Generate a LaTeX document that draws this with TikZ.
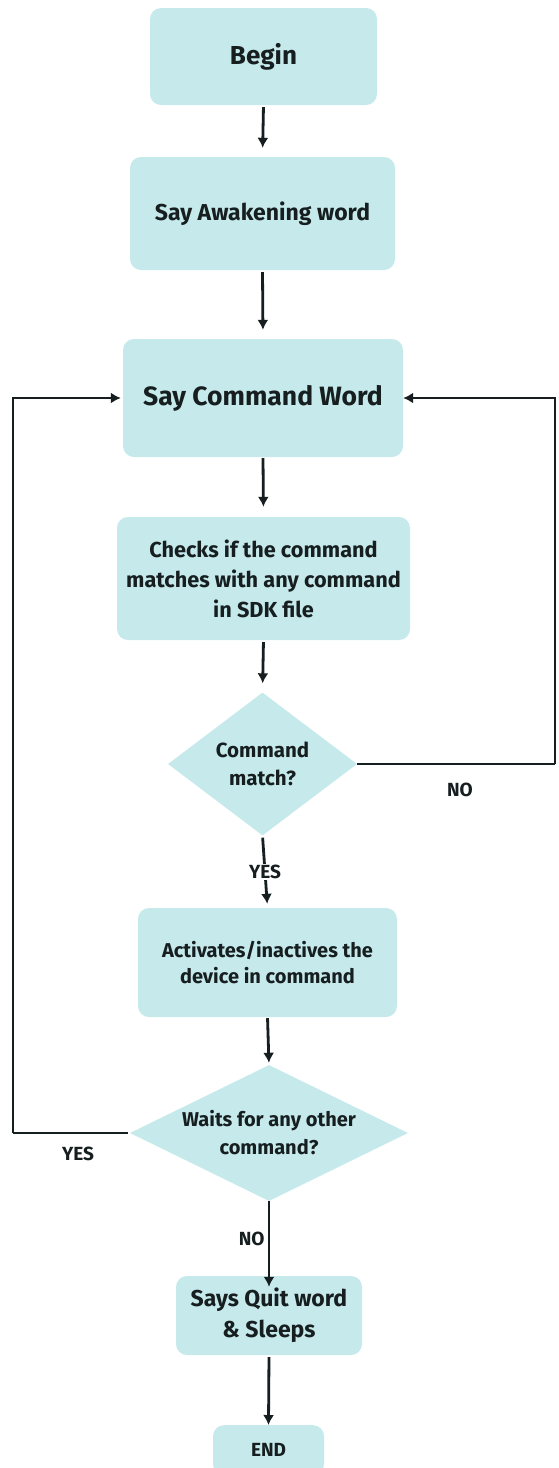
\documentclass[tikz,border=0pt]{standalone}
\usepackage{fontspec}
\setmainfont{Fira Sans}
\usetikzlibrary{shapes.geometric,arrows.meta}
\definecolor{boxfill}{RGB}{198,234,236}
\definecolor{ink}{RGB}{22,30,32}
\tikzset{
  stepbox/.style={rectangle, rounded corners=11pt, fill=boxfill, draw=none, align=center, inner sep=0pt, text=ink, font=\bfseries},
  decide/.style={diamond, fill=boxfill, draw=none, align=center, inner sep=0pt, text=ink, font=\bfseries},
  flow/.style={line width=2.8pt, draw=ink, -{Latex[length=10pt,width=11pt]}},
  plain/.style={line width=2.8pt, draw=ink},
  lbl/.style={text=ink, font=\bfseries\fontsize{19}{21}\selectfont, inner sep=1pt}
}
\begin{document}
\begin{tikzpicture}[x=1pt,y=-1pt]
\useasboundingbox (0,0) rectangle (558,1468);
\fill[white] (0,0) rectangle (558,1468);

\node[stepbox, minimum width=227pt, minimum height=97pt, font=\bfseries\fontsize{26}{30}\selectfont] (begin) at (263.5,56.5) {Begin};
\node[stepbox, minimum width=265pt, minimum height=113pt, font=\bfseries\fontsize{23}{27}\selectfont] (awake) at (262.5,213.5) {Say Awakening word};
\node[stepbox, minimum width=280pt, minimum height=118pt, font=\bfseries\fontsize{26.5}{30}\selectfont] (cmd) at (263,398) {Say Command Word};
\node[stepbox, minimum width=293pt, minimum height=123pt, font=\bfseries\fontsize{21.7}{30}\selectfont] (check) at (263.5,578.5) {Checks if the command\\matches with any command\\in SDK file};
\node[decide, minimum width=189pt, minimum height=143pt, aspect=1.32, font=\bfseries\fontsize{20.5}{28}\selectfont] (match) at (262.5,764) {Command\\match?};
\node[stepbox, minimum width=259pt, minimum height=109pt, font=\bfseries\fontsize{20}{26}\selectfont] (act) at (267.5,962.5) {Activates/inactives the\\device in command};
\node[decide, minimum width=278pt, minimum height=136pt, aspect=2.04, font=\bfseries\fontsize{20}{28}\selectfont] (wait) at (269,1133) {Waits for any other\\command?};
\node[stepbox, minimum width=186pt, minimum height=79pt, font=\bfseries\fontsize{23}{31}\selectfont] (quit) at (269,1315.5) {Says Quit word\\\& Sleeps};
\node[stepbox, minimum width=111pt, minimum height=50pt, font=\bfseries\fontsize{19}{22}\selectfont, anchor=north] (end) at (268.5,1425) {\raisebox{-2pt}{END}};

\coordinate (lt) at (13,1133);
\coordinate (lb) at (13,398);
\coordinate (rb) at (555,764);
\coordinate (rt) at (555,398);

\draw[flow, shorten <=2pt, shorten >=9pt] (begin.south) -- (awake.north);
\draw[flow, shorten <=2pt, shorten >=9pt] (awake.south) -- (cmd.north);
\draw[flow, shorten <=1pt, shorten >=10pt] (cmd.south) -- (check.north);
\draw[flow, shorten <=2pt, shorten >=9pt] (check.south) -- (match.north);
\draw[flow, shorten <=2pt, shorten >=4pt] (match.south) -- node[lbl, fill=white] {YES} (act.north);
\draw[flow, shorten <=1pt, shorten >=2pt] (act.south) -- (wait.north);
\draw[flow, shorten >=-11pt] (wait.south) -- node[lbl, left=2pt, pos=0.5] {NO} (quit.north);
\draw[flow, shorten <=2pt] (quit.south) -- (end.north);

\draw[plain] (match.east) -- (rb);
\draw[flow] (rb) -- (rt) -- (cmd.east);
\node[lbl, anchor=center] (nolbl) at (460,790) {NO};

\draw[plain, shorten <=2pt] (wait.west) -- (lt);
\draw[flow, shorten >=2pt] (lt) -- (lb) -- (cmd.west);
\node[lbl, anchor=center] (yeslbl) at (78,1154) {YES};
\end{tikzpicture}
\end{document}
